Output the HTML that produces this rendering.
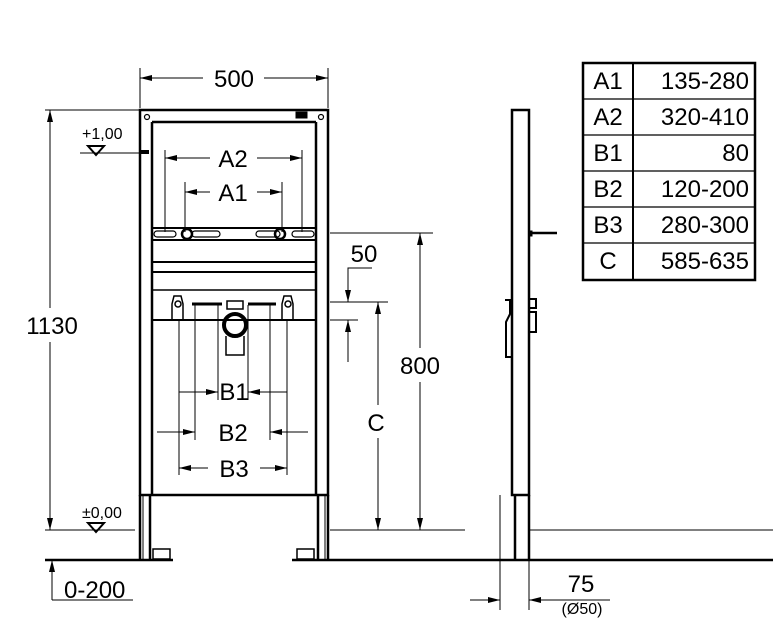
<!DOCTYPE html>
<html><head><meta charset="utf-8"><style>
html,body{margin:0;padding:0;background:#fff;}
svg{display:block;font-family:"Liberation Sans",Arial,sans-serif;}
</style></head><body>
<svg width="773" height="636" viewBox="0 0 773 636" xmlns="http://www.w3.org/2000/svg">
<defs>
<marker id="ar" viewBox="0 0 12 6" refX="12" refY="3" markerWidth="12" markerHeight="6" orient="auto" markerUnits="userSpaceOnUse"><path d="M0,0 L12,3 L0,6 z" fill="#000"/></marker>
</defs>
<g stroke="#000" fill="none">
<rect x="140" y="110" width="188" height="385" stroke-width="2.5"/>
<line x1="152" y1="122" x2="152" y2="495" stroke-width="2.5"/>
<line x1="316" y1="122" x2="316" y2="495" stroke-width="2.5"/>
<line x1="152" y1="122" x2="316" y2="122" stroke-width="2.5"/>
<circle cx="147" cy="117" r="2.5" stroke-width="1.2"/>
<circle cx="321" cy="117" r="2.5" stroke-width="1.2"/>
<rect x="296" y="112" width="11" height="6" fill="#000" stroke-width="1"/>
<rect x="141" y="150" width="8" height="4" fill="#000" stroke="none"/>
<line x1="140" y1="495" x2="140" y2="560" stroke-width="2.5"/>
<line x1="150" y1="495" x2="150" y2="560" stroke-width="2.5"/>
<line x1="143" y1="495" x2="143" y2="560" stroke-width="1"/>
<line x1="318" y1="495" x2="318" y2="560" stroke-width="2.5"/>
<line x1="328" y1="495" x2="328" y2="560" stroke-width="2.5"/>
<line x1="325" y1="495" x2="325" y2="560" stroke-width="1"/>
<rect x="153" y="549" width="17" height="10" stroke-width="1.5"/>
<rect x="297" y="549" width="17" height="10" stroke-width="1.5"/>
<line x1="152" y1="228" x2="316" y2="228" stroke-width="2"/>
<line x1="152" y1="240" x2="316" y2="240" stroke-width="2"/>
<rect x="154" y="231" width="22" height="6" rx="3" stroke-width="1.2"/>
<rect x="192" y="231" width="28" height="6" rx="3" stroke-width="1.2"/>
<rect x="256" y="231" width="24" height="6" rx="3" stroke-width="1.2"/>
<rect x="292" y="231" width="22" height="6" rx="3" stroke-width="1.2"/>
<circle cx="187" cy="234" r="5" stroke-width="2.5"/>
<circle cx="280" cy="234" r="5" stroke-width="2.5"/>
<line x1="152" y1="262" x2="316" y2="262" stroke-width="2"/>
<line x1="152" y1="272" x2="316" y2="272" stroke-width="2"/>
<line x1="152" y1="290" x2="316" y2="290" stroke-width="1.5"/>
<line x1="152" y1="320" x2="316" y2="320" stroke-width="2"/>
<path d="M174,296 h7 l2,8 v16 h-11 v-16 z" stroke-width="1.5"/>
<circle cx="178" cy="304" r="3" stroke-width="1.5"/>
<path d="M284,296 h7 l2,8 v16 h-11 v-16 z" stroke-width="1.5"/>
<circle cx="288" cy="304" r="3" stroke-width="1.5"/>
<line x1="192" y1="304" x2="222" y2="304" stroke-width="3"/>
<line x1="248" y1="304" x2="276" y2="304" stroke-width="3"/>
<rect x="227" y="301" width="16" height="8" stroke-width="1.5"/>
<circle cx="235" cy="325" r="11" stroke-width="4"/>
<path d="M226,336 v19 h18 v-19" stroke-width="1.5"/>
<g stroke-width="1">
<line x1="179" y1="320" x2="179" y2="475"/>
<line x1="287" y1="320" x2="287" y2="475"/>
<line x1="195" y1="305" x2="195" y2="440"/>
<line x1="270" y1="305" x2="270" y2="440"/>
<line x1="218" y1="305" x2="218" y2="400"/>
<line x1="248" y1="305" x2="248" y2="400"/>
<line x1="179" y1="392" x2="218" y2="392" marker-end="url(#ar)"/>
<line x1="287" y1="392" x2="248" y2="392" marker-end="url(#ar)"/>
<line x1="157" y1="432" x2="195" y2="432" marker-end="url(#ar)"/>
<line x1="308" y1="432" x2="270" y2="432" marker-end="url(#ar)"/>
<line x1="208" y1="468" x2="179" y2="468" marker-end="url(#ar)"/>
<line x1="260" y1="468" x2="287" y2="468" marker-end="url(#ar)"/>
<line x1="140" y1="68" x2="140" y2="108"/>
<line x1="328" y1="68" x2="328" y2="108"/>
<line x1="203" y1="78" x2="140" y2="78" marker-end="url(#ar)"/>
<line x1="264" y1="78" x2="328" y2="78" marker-end="url(#ar)"/>
<line x1="165" y1="150" x2="165" y2="232"/>
<line x1="302" y1="150" x2="302" y2="232"/>
<line x1="210" y1="158" x2="165" y2="158" marker-end="url(#ar)"/>
<line x1="257" y1="158" x2="302" y2="158" marker-end="url(#ar)"/>
<line x1="185" y1="182" x2="185" y2="232"/>
<line x1="282" y1="182" x2="282" y2="232"/>
<line x1="210" y1="192" x2="185" y2="192" marker-end="url(#ar)"/>
<line x1="257" y1="192" x2="282" y2="192" marker-end="url(#ar)"/>
<line x1="45" y1="110" x2="140" y2="110"/>
<line x1="50" y1="308" x2="50" y2="110" marker-end="url(#ar)"/>
<line x1="50" y1="342" x2="50" y2="530" marker-end="url(#ar)"/>
<line x1="80" y1="153" x2="140" y2="153"/>
<line x1="45" y1="530" x2="135" y2="530"/>
<line x1="45" y1="560" x2="173" y2="560" stroke-width="2.5"/>
<line x1="292" y1="560" x2="773" y2="560" stroke-width="2.5"/>
<line x1="52" y1="600" x2="52" y2="560" marker-end="url(#ar)"/>
<line x1="52" y1="600" x2="133" y2="600"/>
<line x1="330" y1="233" x2="433" y2="233"/>
<line x1="420" y1="348" x2="420" y2="233" marker-end="url(#ar)"/>
<line x1="420" y1="382" x2="420" y2="530" marker-end="url(#ar)"/>
<line x1="330" y1="530" x2="465" y2="530"/>
<line x1="330" y1="302" x2="388" y2="302"/>
<line x1="330" y1="320" x2="358" y2="320"/>
<line x1="378" y1="405" x2="378" y2="302" marker-end="url(#ar)"/>
<line x1="378" y1="438" x2="378" y2="530" marker-end="url(#ar)"/>
<polyline points="372,268 348,268 348,302" marker-end="url(#ar)"/>
<line x1="348" y1="362" x2="348" y2="320" marker-end="url(#ar)"/>
<line x1="530" y1="530" x2="773" y2="530"/>
<line x1="500" y1="495" x2="500" y2="610"/>
<line x1="529" y1="560" x2="529" y2="610"/>
<line x1="470" y1="600" x2="500" y2="600" marker-end="url(#ar)"/>
<line x1="560" y1="600" x2="529" y2="600" marker-end="url(#ar)"/>
<line x1="529" y1="600" x2="610" y2="600"/>
</g>
<rect x="512" y="110" width="17" height="385" stroke-width="2.5"/>
<line x1="515" y1="495" x2="515" y2="560" stroke-width="2.5"/>
<line x1="529" y1="495" x2="529" y2="560" stroke-width="2.5"/>
<line x1="529" y1="233" x2="557" y2="233" stroke-width="2.5"/>
<rect x="529" y="231" width="3" height="5" fill="#000" stroke-width="1"/>
<path d="M505,300 h5 v14 l-4,8 v35 h6" stroke-width="2"/>
<rect x="529" y="299" width="7" height="9" stroke-width="2"/>
<path d="M529,312 h7 v20 h-7" stroke-width="2"/>
<rect x="583" y="63" width="172" height="217" stroke-width="2.5"/>
<line x1="633" y1="63" x2="633" y2="280" stroke-width="2"/>
<g stroke-width="1.2">
<line x1="583" y1="99" x2="755" y2="99"/>
<line x1="583" y1="135" x2="755" y2="135"/>
<line x1="583" y1="171" x2="755" y2="171"/>
<line x1="583" y1="207" x2="755" y2="207"/>
<line x1="583" y1="243" x2="755" y2="243"/>
</g>
</g>
<polygon points="88,146 104,146 96,155" fill="none" stroke="#000" stroke-width="2"/>
<polygon points="88,523 104,523 96,532" fill="none" stroke="#000" stroke-width="2"/>
<g fill="#000" font-size="24">
<text x="234" y="87" text-anchor="middle">500</text>
<text x="233" y="167" text-anchor="middle">A2</text>
<text x="233" y="201" text-anchor="middle">A1</text>
<text x="234" y="400" text-anchor="middle">B1</text>
<text x="233" y="441" text-anchor="middle">B2</text>
<text x="234" y="477" text-anchor="middle">B3</text>
<text x="52" y="334" text-anchor="middle">1130</text>
<text x="420" y="374" text-anchor="middle">800</text>
<text x="376" y="431" text-anchor="middle">C</text>
<text x="364" y="262" text-anchor="middle">50</text>
<text x="64" y="598">0-200</text>
<text x="581" y="592" text-anchor="middle">75</text>
<text x="608" y="89" text-anchor="middle">A1</text><text x="749" y="89" text-anchor="end">135-280</text>
<text x="608" y="125" text-anchor="middle">A2</text><text x="749" y="125" text-anchor="end">320-410</text>
<text x="608" y="161" text-anchor="middle">B1</text><text x="749" y="161" text-anchor="end">80</text>
<text x="608" y="197" text-anchor="middle">B2</text><text x="749" y="197" text-anchor="end">120-200</text>
<text x="608" y="233" text-anchor="middle">B3</text><text x="749" y="233" text-anchor="end">280-300</text>
<text x="608" y="269" text-anchor="middle">C</text><text x="749" y="269" text-anchor="end">585-635</text>
</g>
<g fill="#000" font-size="16">
<text x="82" y="139">+1,00</text>
<text x="82" y="518">±0,00</text>
<text x="582" y="614" text-anchor="middle">(Ø50)</text>
</g>
</svg>
</body></html>
